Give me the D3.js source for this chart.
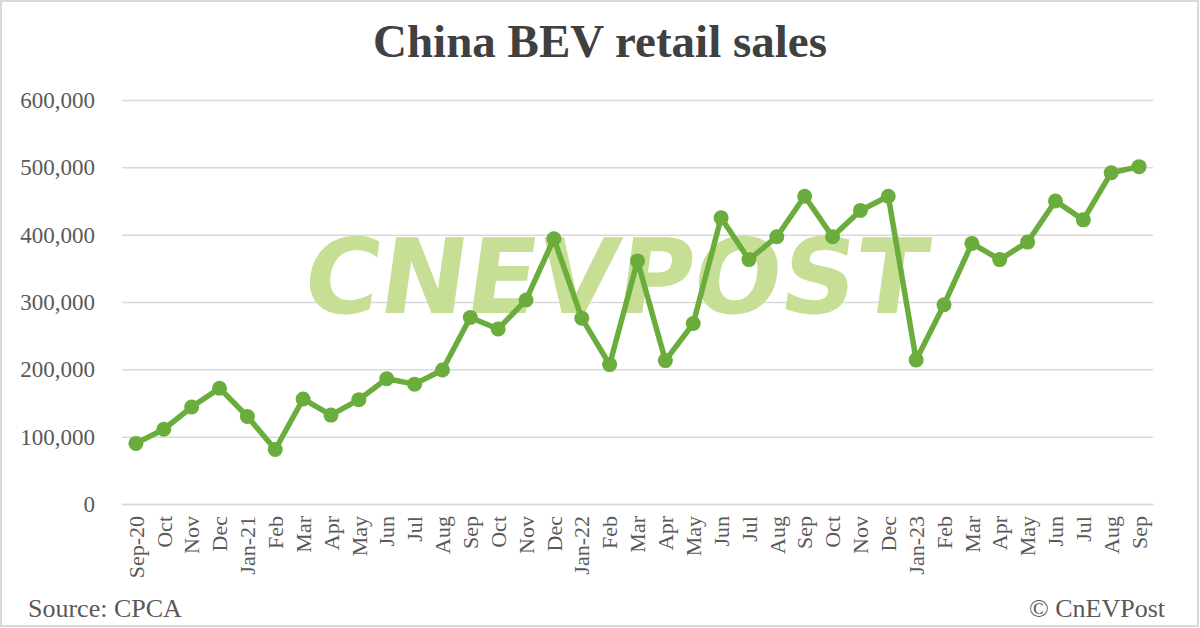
<!DOCTYPE html>
<html><head><meta charset="utf-8">
<script src="https://cdn.jsdelivr.net/npm/d3@7"></script>
<style>body{margin:0;background:#fff}svg{display:block}</style>
</head><body>
<svg id="c" width="1200" height="628"></svg>
<script>
const categories = ["Sep-20","Oct","Nov","Dec","Jan-21","Feb","Mar","Apr","May","Jun","Jul","Aug",
  "Sep","Oct","Nov","Dec","Jan-22","Feb","Mar","Apr","May","Jun","Jul","Aug",
  "Sep","Oct","Nov","Dec","Jan-23","Feb","Mar","Apr","May","Jun","Jul","Aug","Sep"];
const sales = [90000,111000,144000,172000,130000,81000,156000,132000,155000,186000,178000,199000,
  277000,260000,303000,394000,276000,207000,361000,213000,268000,425000,363000,397000,
  457000,397000,436000,457000,214000,296000,387000,363000,389000,450000,422000,492000,501000];
const yTicks = [0,100000,200000,300000,400000,500000,600000];
const title = "China BEV retail sales";
const source = "Source: CPCA";
const credit = "© CnEVPost";
const watermark = "CNEVPOST";

const svg = d3.select("#c");
const serif = "'Liberation Serif','Times New Roman',serif";
svg.append("rect").attr("x",1).attr("y",1).attr("width",1197).attr("height",625)
  .attr("fill","#fff").attr("stroke","#d9d9d9").attr("stroke-width",2);

const L=122,R=1153,T=100,B=504;
const x = d3.scaleBand().domain(d3.range(categories.length)).range([L,R]);
const y = d3.scaleLinear().domain([0,600000]).range([B,T]);

svg.append("text").attr("x",600).attr("y",57).attr("text-anchor","middle")
  .attr("font-family",serif).attr("font-weight","bold").attr("font-size",47).attr("fill","#404040").text(title);

// gridlines
const yAxis = d3.axisLeft(y).tickValues(yTicks).tickSize(-(R-L)).tickPadding(27).tickFormat(d3.format(","));
const gy = svg.append("g").attr("transform",`translate(${L},0)`).call(yAxis);
gy.select(".domain").remove();
gy.selectAll(".tick line").attr("stroke","#d9d9d9").attr("stroke-width",1.5);
gy.selectAll(".tick text").attr("font-family",serif).attr("font-size",23).attr("fill","#595959").attr("dy","0.32em");

// watermark
svg.append("text").attr("transform","translate(300,313) skewX(-8)")
  .attr("font-family","'DejaVu Sans',sans-serif").attr("font-weight","bold").attr("font-size",104)
  .attr("textLength",622).attr("lengthAdjust","spacingAndGlyphs")
  .attr("fill","#c6df95").text(watermark);

// x axis
const xAxis = d3.axisBottom(x).tickSize(0).tickPadding(0).tickFormat(i=>categories[i]);
const gx = svg.append("g").attr("transform",`translate(0,${B})`).call(xAxis);
gx.select(".domain").attr("stroke","#d9d9d9").attr("stroke-width",1.5);
gx.selectAll(".tick text").attr("font-family",serif).attr("font-size",22).attr("fill","#595959")
  .attr("transform","rotate(-90)").attr("text-anchor","end").attr("x",-12).attr("y",0).attr("dy","0.35em");

// line
const cx = i => x(i)+x.bandwidth()/2;
const line = d3.line().x((d,i)=>cx(i)).y(d=>y(d));
svg.append("path").datum(sales).attr("d",line).attr("fill","none")
  .attr("stroke","#6aad3d").attr("stroke-width",5.5).attr("stroke-linejoin","round");
svg.append("g").selectAll("circle").data(sales).join("circle")
  .attr("cx",(d,i)=>cx(i)).attr("cy",d=>y(d)).attr("r",7.5).attr("fill","#6aad3d");

svg.append("text").attr("x",28).attr("y",617).attr("font-family",serif).attr("font-size",26).attr("fill","#595959").text(source);
svg.append("text").attr("x",1165).attr("y",617).attr("text-anchor","end").attr("font-family",serif).attr("font-size",26).attr("fill","#595959").text(credit);
</script>
</body></html>
